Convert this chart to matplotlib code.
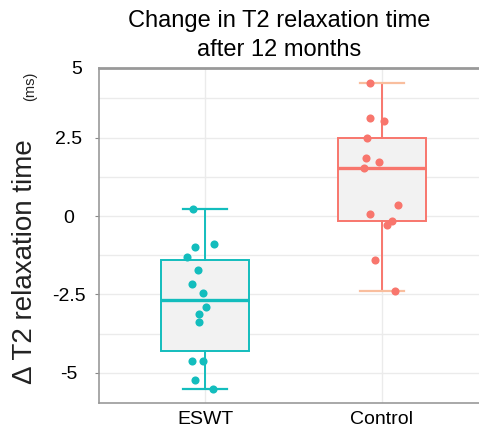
import numpy as np
import matplotlib.pyplot as plt
from matplotlib.ticker import MultipleLocator

plt.rcParams["font.family"] = ["Liberation Sans", "DejaVu Sans"]

# values
groups = ["ESWT", "Control"]
eswt_vals = [0.21, -0.98, -0.89, -1.30, -1.72, -2.18, -2.46, -2.89, -3.13, -3.37,
             -4.63, -4.61, -5.22, -5.51]
eswt_jitter = [-0.066, -0.058, 0.051, -0.10, -0.038, -0.072, -0.01, 0.007, -0.036,
               -0.034, -0.072, -0.011, -0.058, 0.045]
control_vals = [4.245, 3.13, 3.02, 2.48, 1.84, 1.73, 1.52, 0.35, 0.05, -0.15, -0.30,
                -1.40, -2.38]
control_jitter = [-0.064, -0.064, 0.015, -0.086, -0.09, -0.015, -0.098, 0.09, -0.068,
                  0.058, 0.032, -0.038, 0.072]
y_ticks = [2.5, 0, -2.5, -5]
y_tick_labels = ["2.5", "0", "-2.5", "-5"]

colors = ["#13BDBD", "#F8766D"]
cap_colors = ["#13BDBD", "#F9BE9E"]

fig = plt.figure(figsize=(4.79, 4.32), dpi=100)
ax = fig.add_axes([99 / 479, 29 / 432, 1 - 99 / 479, 335 / 432])

data = [eswt_vals, control_vals]
jitters = [eswt_jitter, control_jitter]
for i, (vals, jit) in enumerate(zip(data, jitters)):
    c = colors[i]
    ax.boxplot([vals], positions=[i], widths=0.5, patch_artist=True,
               showfliers=False, whis=3,
               boxprops=dict(facecolor="#F2F2F2", edgecolor=c, linewidth=1.4),
               medianprops=dict(color=c, linewidth=2.4),
               whiskerprops=dict(color=c, linewidth=1.4),
               capprops=dict(color=cap_colors[i], linewidth=1.6),
               zorder=2)
    ax.scatter(i + np.array(jit), vals, s=34, color=c, zorder=3, linewidths=0)

ax.set_xlim(-0.6, 1.55)
ax.set_ylim(-5.96, 4.72)
ax.set_xticks([0, 1])
ax.set_xticklabels(groups, fontsize=14)
ax.set_yticks(y_ticks)
ax.set_yticklabels(y_tick_labels, fontsize=14)
ax.yaxis.set_minor_locator(MultipleLocator(1.25))
ax.tick_params(axis="x", length=0, pad=6)
ax.tick_params(axis="y", which="major", length=3, color="#888888", pad=19)
ax.tick_params(axis="y", which="minor", length=0)
for lab in ax.get_yticklabels():
    lab.set_horizontalalignment("center")

ax.grid(True, which="both", axis="y", color="#EBEBEB", linewidth=1)
ax.grid(True, which="major", axis="x", color="#EBEBEB", linewidth=1)
ax.set_axisbelow(True)

ax.spines["right"].set_visible(False)
ax.spines["left"].set_color("#999999")
ax.spines["bottom"].set_color("#999999")
ax.spines["top"].set_color("#999999")
ax.spines["top"].set_linewidth(2)
ax.spines["left"].set_linewidth(1.2)
ax.spines["bottom"].set_linewidth(1.2)

# the "5" label sits at the top edge in the original
fig.text(77 / 479, 1 - 70 / 432, "5", fontsize=14, ha="center", va="center")

fig.text(279 / 479, 1 - 21 / 432, "Change in T2 relaxation time",
         fontsize=17, ha="center", va="center")
fig.text(279 / 479, 1 - 50 / 432, "after 12 months",
         fontsize=17, ha="center", va="center")

fig.text(25 / 479, 1 - 262 / 432, "\u0394 T2 relaxation time", fontsize=20,
         rotation=90, ha="center", va="center", color="#222222")
fig.text(30 / 479, 1 - 86 / 432, "(ms)", fontsize=10.5, rotation=90,
         ha="center", va="center", color="#222222")

fig.savefig("out.png", dpi=100)
